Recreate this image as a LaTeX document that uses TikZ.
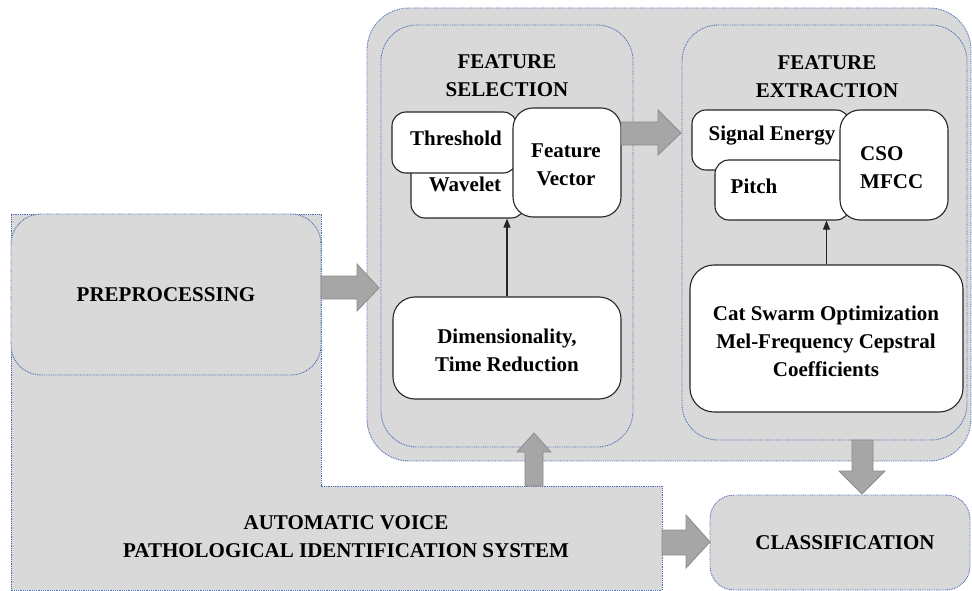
\documentclass[tikz,border=0pt]{standalone}
\usepackage{fontspec}
\setmainfont{Liberation Serif}
\usetikzlibrary{arrows.meta}

\definecolor{panelgray}{HTML}{D9D9D9}
\definecolor{dotblue}{HTML}{4A6DB5}
\definecolor{arrowgray}{HTML}{A6A6A6}
\definecolor{arrowedge}{HTML}{8C8C8C}

\begin{document}
\begin{tikzpicture}[x=1pt,y=-1pt,
  dotborder/.style={draw=dotblue, line width=0.9pt, dash pattern=on 0.9pt off 0.9pt, fill=panelgray},
  panel/.style={dotborder, rectangle, inner sep=0pt},
  whitebox/.style={draw=black!85, line width=1.1pt, fill=white, rectangle, inner sep=0pt},
  lbl/.style={font=\bfseries\fontsize{21}{28}\selectfont, align=center, inner sep=0pt},
  blockarrow/.style={fill=arrowgray, draw=arrowedge, line width=0.8pt, line join=miter},
  thinarrow/.style={-{Triangle[length=9pt,width=7pt]}, line width=1.1pt, draw=black!85}
]
\useasboundingbox (0,0) rectangle (972,591);

% system block (L-shaped) and preprocessing stage
\path[dotborder] (11,214) -- (321,214) -- (321,486) -- (662,486) -- (662,590) -- (11,590) -- cycle;
\node[lbl] (avpis) at (346,537) {AUTOMATIC VOICE\\PATHOLOGICAL IDENTIFICATION SYSTEM};
\node[panel, rounded corners=30pt, minimum width=310, minimum height=161, lbl] (prep) at (166,294.5) {PREPROCESSING};

% feature container
\node[panel, rounded corners=42pt, minimum width=604, minimum height=453] (feat) at (669,234.5) {};
\node[panel, rounded corners=36pt, minimum width=252, minimum height=422] (sel) at (507,236) {};
\node[panel, rounded corners=36pt, minimum width=285, minimum height=415] (ext) at (824.5,232.5) {};
\node[lbl] (seltitle) at (507,76) {FEATURE\\SELECTION};
\node[lbl] (exttitle) at (827,77) {FEATURE\\EXTRACTION};

% feature selection boxes
\node[whitebox, rounded corners=14pt, minimum width=114, minimum height=68] (wav) at (468,184) {};
\node[whitebox, rounded corners=14pt, minimum width=125, minimum height=61] (thr) at (454.5,142.5) {};
\node[whitebox, rounded corners=20pt, minimum width=108, minimum height=109] (fv) at (567,162.5) {};
\node[lbl] (wavtext) at (465,184) {Wavelet};
\node[lbl] (thrtext) at (456,138) {Threshold};
\node[lbl] (fvtext) at (566,165) {Feature\\Vector};
\node[whitebox, rounded corners=22pt, minimum width=228, minimum height=102] (dim) at (507,348) {};
\node[lbl] (dimtext) at (507,350) {Dimensionality,\\Time Reduction};

% feature extraction boxes
\node[whitebox, rounded corners=14pt, minimum width=158, minimum height=60] (sig) at (771,140) {};
\node[whitebox, rounded corners=14pt, minimum width=135, minimum height=60] (pitch) at (782.5,190) {};
\node[whitebox, rounded corners=20pt, minimum width=108, minimum height=110] (cso) at (894,165) {};
\node[lbl] (sigtext) at (772,136) {Signal Energy};
\node[lbl] (pitchtext) at (754,186) {Pitch};
\node[lbl, align=left, anchor=west] (csotext) at (860,168) {CSO\\MFCC};
\node[whitebox, rounded corners=24pt, minimum width=273, minimum height=147] (cat) at (826.5,338.5) {};
\node[lbl] (cattext) at (826,341) {Cat Swarm Optimization\\Mel-Frequency Cepstral\\Coefficients};

% classification stage
\node[panel, rounded corners=24pt, minimum width=260, minimum height=95, lbl] (cls) at (840,542.5) {\hspace*{10pt}CLASSIFICATION};

% thin connectors
\draw[thinarrow] (dim.north) -- (dim.north |- wav.south);
\draw[thinarrow] (cat.north) -- (cat.north |- pitch.south);

% block arrows
\path[blockarrow] (321,276) -- (357,276) -- (357,264) -- (379,288) -- (357,311) -- (357,299) -- (321,299) -- cycle;
\path[blockarrow] (621,122) -- (658,122) -- (658,110) -- (681,133) -- (658,155) -- (658,145) -- (621,145) -- cycle;
\path[blockarrow] (525,486) -- (525,452) -- (517,452) -- (534,433) -- (551,452) -- (543,452) -- (543,486) -- cycle;
\path[blockarrow] (852,440) -- (873,440) -- (873,471) -- (885,471) -- (862,494) -- (839,471) -- (852,471) -- cycle;
\path[blockarrow] (662,530) -- (686,530) -- (686,515) -- (710,542) -- (686,568) -- (686,555) -- (662,555) -- cycle;
\end{tikzpicture}
\end{document}
